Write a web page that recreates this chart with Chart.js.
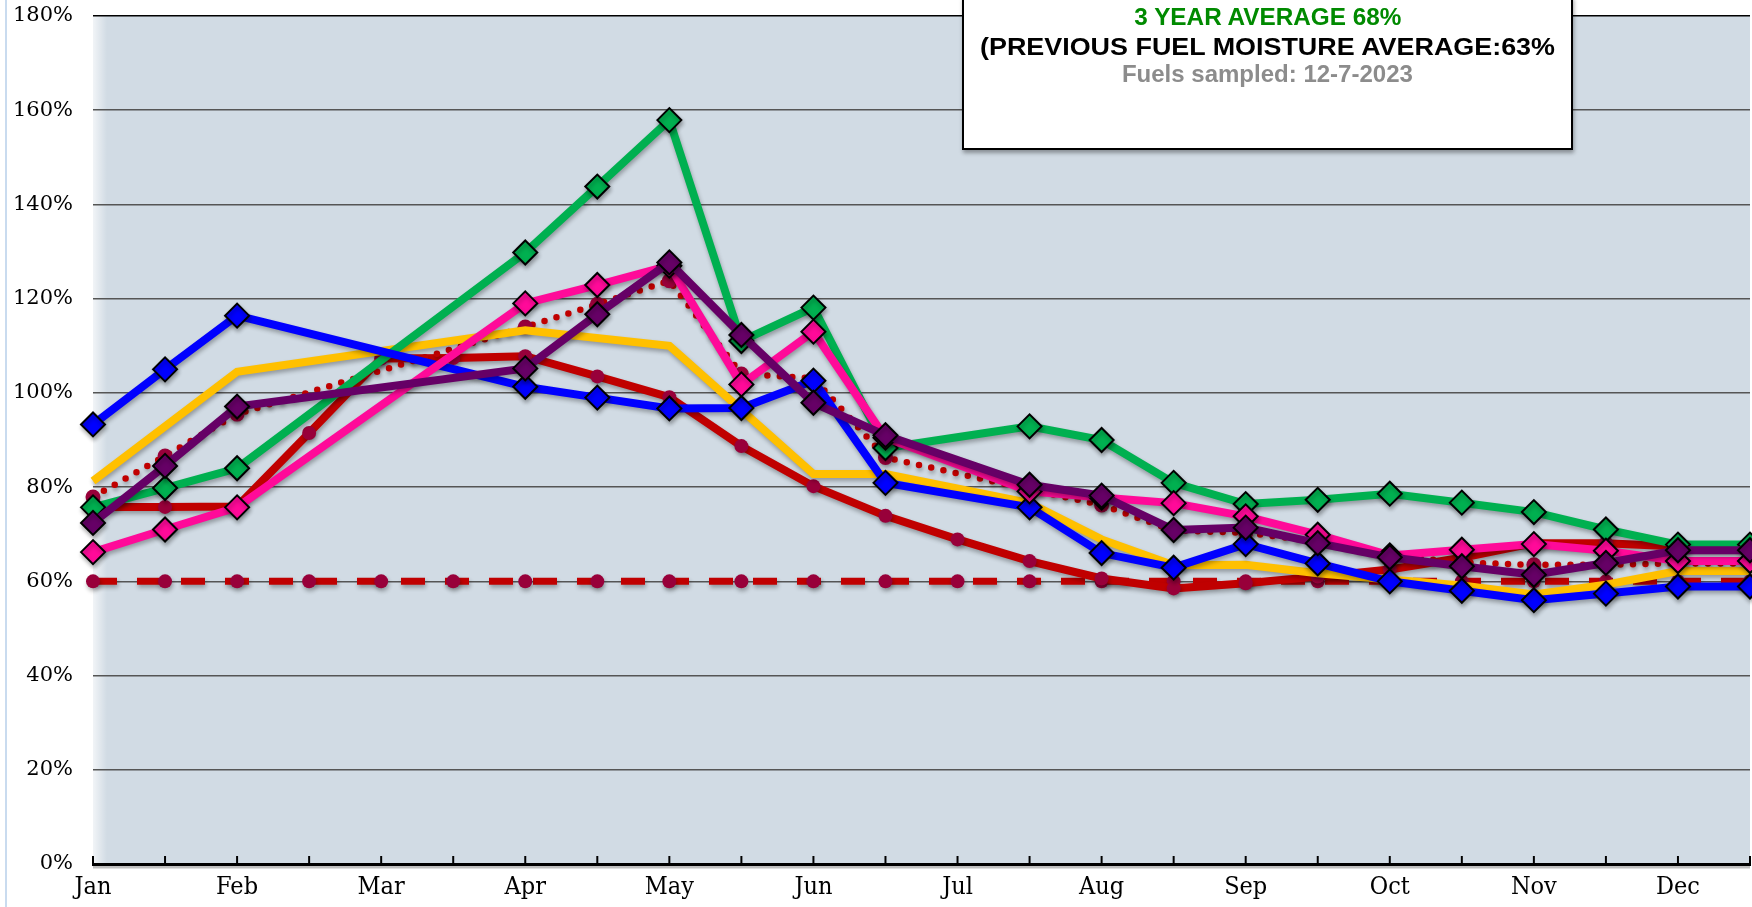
<!DOCTYPE html>
<html>
<head>
<meta charset="utf-8">
<script src="https://cdn.jsdelivr.net/npm/chart.js@4.4.0/dist/chart.umd.min.js"></script>
<style>
  body { margin: 0; background: #fff; }
  #wrap { position: relative; width: 1752px; height: 907px; overflow: hidden; }
  #edge { position: absolute; left: 5px; top: 0; width: 2px; height: 907px; background: #c9dbef; }
  #note { position: absolute; left: 962px; top: -4px; width: 607px; height: 150px;
          border: 2px solid #000; background: #fff; box-shadow: 1px 3px 4px rgba(0,0,0,.35); }
  #note div { position: absolute; left: 0; right: 0; text-align: center; white-space: nowrap;
              font-family: "Liberation Sans", Arial, sans-serif; font-weight: bold; line-height: 28px; }
  #note span { display: inline-block; transform-origin: center; }
</style>
</head>
<body>
<div id="wrap">
  <canvas id="chart" width="1752" height="907"></canvas>
  <div id="edge"></div>
  <div id="note">
    <div style="top:5px;font-size:24px;color:#008a00"><span>3 YEAR AVERAGE 68%</span></div>
    <div style="top:35px;font-size:24px;color:#000"><span>(PREVIOUS FUEL MOISTURE AVERAGE:63%</span></div>
    <div style="top:62px;font-size:24px;color:#8c8c8c"><span>Fuels sampled: 12-7-2023</span></div>
  </div>
</div>
<script>
//-----------------------------------------------------------------------------
// Data (half-month steps, Jan .. Dec-mid)
//-----------------------------------------------------------------------------

var months = ['Jan', '', 'Feb', '', 'Mar', '', 'Apr', '', 'May', '', 'Jun', '',
              'Jul', '', 'Aug', '', 'Sep', '', 'Oct', '', 'Nov', '', 'Dec', ''];

var greenSeries  = [75.7, 79.8, 84.0, null, null, null, 129.8, 143.8, 157.9, 111.0, 118.1, 88.3,
                    null, 92.9, 90.0, 80.9, 76.4, 77.3, 78.6, 76.7, 74.7, 71.0, 67.8, 67.8];
var blueSeries   = [93.3, 105.0, 116.4, null, null, null, 101.3, 99.0, 96.7, 96.8, 102.6, 80.9,
                    null, 75.7, 66.0, 62.9, 67.9, 63.8, 60.0, 58.0, 56.0, 57.4, 58.9, 58.9];
var pinkSeries   = [66.2, 71.0, 75.7, null, null, null, 119.0, 122.9, 127.0, 101.8, 113.0, 90.5,
                    null, 79.1, 77.8, 76.6, 73.8, 69.9, 65.5, 66.7, 67.9, 66.5, 64.3, 64.3];
var purpleSeries = [72.4, 84.5, 97.1, null, null, null, 105.2, 116.7, 127.7, 112.3, 97.9, 91.0,
                    null, 80.5, 78.2, 70.9, 71.4, 68.1, 65.1, 63.2, 61.4, 63.9, 66.6, 66.6];
var yellowSeries = [81.3, null, 104.5, null, null, null, 113.3, null, 110.0, null, 82.8, 82.8,
                    null, 76.6, 68.9, 63.4, 63.5, 61.7, 60.4, 59.1, 57.2, 59.3, 62.2, 62.2];
var redSeries    = [75.8, 75.8, 75.9, 91.5, 107.3, 107.4, 107.8, 103.5, 99.1, 88.7, 80.2, 73.9,
                    68.9, 64.3, 60.6, 58.5, 59.6, 61.0, 62.5, 65.0, 68.1, 68.1, 67.4, 67.4];
var avgSeries    = [77.9, 86.6, 95.5, null, null, null, 114.0, 118.8, 123.8, 104.0, 103.1, 86.3,
                    null, 79.5, 76.2, 70.8, 70.3, 68.5, 65.5, 64.0, 63.5, 63.5, 63.8, 63.8];
var floorSeries  = [60, 60, 60, 60, 60, 60, 60, 60, 60, 60, 60, 60,
                    60, 60, 60, 60, 60, 60, 60, 60, 60, 60, 60, 60];

var yTicks = { min: 0, max: 180, step: 20 };

//-----------------------------------------------------------------------------
// Helpers
//-----------------------------------------------------------------------------

function diamondLine(data, color) {
  return {
    data: data, borderColor: color, backgroundColor: color, borderWidth: 8,
    pointStyle: 'rectRot', pointRadius: 12, pointBorderColor: '#000', pointBorderWidth: 2,
    pointBackgroundColor: color, spanGaps: true, clip: false
  };
}

var markerRed = '#98003a';

// plot area fill, tick marks and line shadows
var decor = {
  id: 'decor',
  beforeDraw: function(chart) {
    var a = chart.chartArea, c = chart.ctx;
    c.save();
    c.fillStyle = '#d1dbe4';
    c.fillRect(a.left, a.top, a.right - a.left, a.bottom - a.top);
    var g = c.createLinearGradient(a.left, 0, a.left + 14, 0);
    g.addColorStop(0, 'rgba(255,255,255,0.7)');
    g.addColorStop(1, 'rgba(255,255,255,0)');
    c.fillStyle = g;
    c.fillRect(a.left, a.top, 14, a.bottom - a.top);
    c.restore();
  },
  beforeDatasetDraw: function(chart) {
    var c = chart.ctx;
    c.save();
    c.shadowColor = 'rgba(0,0,0,0.3)';
    c.shadowBlur = 4;
    c.shadowOffsetX = 1;
    c.shadowOffsetY = 3;
  },
  afterDatasetDraw: function(chart) {
    chart.ctx.restore();
  },
  afterDraw: function(chart) {
    var x = chart.scales.x, c = chart.ctx, b = chart.chartArea.bottom;
    c.save();
    c.strokeStyle = 'rgba(0,0,0,0.25)';
    c.lineWidth = 3;
    c.beginPath();
    c.moveTo(chart.chartArea.left, b + 3);
    c.lineTo(chart.chartArea.right, b + 3);
    c.stroke();
    c.strokeStyle = '#000';
    c.lineWidth = 2;
    for (var i = 0; i < x.ticks.length; i++) {
      var px = x.getPixelForTick(i);
      c.beginPath();
      c.moveTo(px, b);
      c.lineTo(px, b - 8);
      c.stroke();
    }
    c.restore();
  }
};

//-----------------------------------------------------------------------------
// Chart
//-----------------------------------------------------------------------------

var datasets = [
  diamondLine(purpleSeries, '#660066'),
  diamondLine(pinkSeries, '#ff0a99'),
  diamondLine(blueSeries, '#0000ff'),
  diamondLine(greenSeries, '#00b050'),
  { data: yellowSeries, borderColor: '#ffc000', borderWidth: 8, pointRadius: 0,
    spanGaps: true, clip: false },
  { data: avgSeries, borderColor: '#c00000', borderWidth: 6.5, borderDash: [0, 12.5],
    borderCapStyle: 'round', pointRadius: 7.5, pointBackgroundColor: markerRed,
    pointBorderWidth: 0, spanGaps: true, clip: false },
  { data: redSeries, borderColor: '#c00000', borderWidth: 8, pointRadius: 7,
    pointBackgroundColor: markerRed, pointBorderWidth: 0, spanGaps: true, clip: false },
  { data: floorSeries, borderColor: '#c00000', borderWidth: 7, borderDash: [24, 20],
    pointRadius: 7, pointBackgroundColor: markerRed, pointBorderWidth: 0, clip: false }
];

new Chart(document.getElementById('chart'), {
  type: 'line',
  data: { labels: months, datasets: datasets },
  plugins: [decor],
  options: {
    responsive: false,
    animation: false,
    devicePixelRatio: 1,
    layout: { autoPadding: false, padding: { top: 16, right: 2, left: 0, bottom: 0 } },
    plugins: { legend: { display: false }, tooltip: { enabled: false } },
    elements: { line: { tension: 0 } },
    scales: {
      x: {
        offset: false,
        grid: { display: false, drawTicks: false },
        border: { display: true, color: '#000', width: 3 },
        ticks: {
          autoSkip: false, maxRotation: 0, padding: 8, color: '#000',
          font: { family: '"DejaVu Serif Condensed", "DejaVu Serif", serif', size: 25 }
        },
        afterFit: function(s) {
          s.height = 43;
          s.paddingLeft = 0;
          s.paddingRight = 0;
        }
      },
      y: {
        min: yTicks.min, max: yTicks.max,
        grid: {
          drawTicks: false, lineWidth: 1.5,
          color: function(ctx) { return ctx.tick && ctx.tick.value === yTicks.max ? '#000' : '#555'; }
        },
        border: { display: false },
        ticks: {
          stepSize: yTicks.step, padding: 20, color: '#000',
          font: { family: '"DejaVu Serif", serif', size: 21 },
          callback: function(v) { return v + '%'; }
        },
        afterFit: function(s) {
          s.width = 93;
          s.paddingTop = 0;
          s.paddingBottom = 0;
        }
      }
    }
  }
});

// fit the note lines to the widths seen in the original
var noteWidths = [267, 575, 291];
document.querySelectorAll('#note span').forEach(function(s, i) {
  var w = s.getBoundingClientRect().width;
  s.style.transform = 'scaleX(' + (noteWidths[i] / w) + ')';
});
</script>
</body>
</html>
